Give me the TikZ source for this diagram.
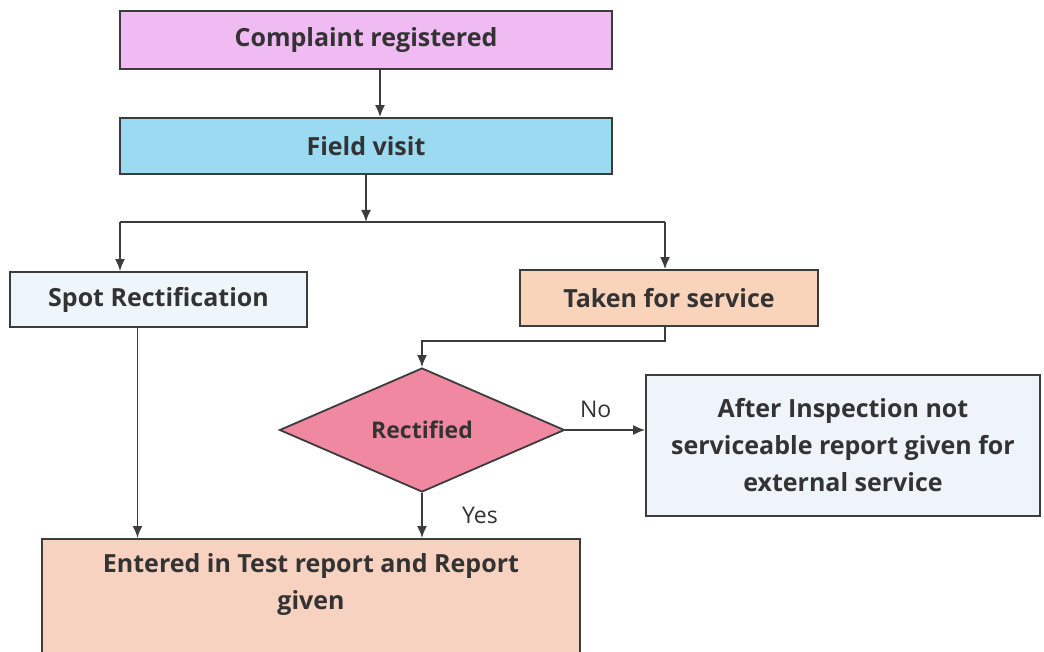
\documentclass[tikz,border=0pt]{standalone}
\usepackage{fontspec}
\setmainfont{Open Sans}
\usetikzlibrary{arrows.meta,positioning,shapes.geometric}

\definecolor{complaintpink}{RGB}{240,186,242}
\definecolor{fieldblue}{RGB}{156,218,242}
\definecolor{spotblue}{RGB}{238,246,252}
\definecolor{takenpeach}{RGB}{250,212,186}
\definecolor{rectpink}{RGB}{240,136,162}
\definecolor{afterblue}{RGB}{238,244,250}
\definecolor{enteredpeach}{RGB}{248,210,192}
\definecolor{edgegray}{RGB}{60,60,60}

\tikzset{
  stagebox/.style={draw=edgegray,line width=1.8pt,inner sep=0pt,align=center,
    font=\fontsize{25}{37}\selectfont\bfseries,text=black!80},
  flow/.style={-{Latex[length=12pt,width=10pt]},edgegray,line width=1.8pt},
  tag/.style={font=\fontsize{23}{26}\selectfont,text=black!80}
}

\begin{document}
\begin{tikzpicture}[x=1pt,y=-1pt]
  \clip (0,0) rectangle (1044,652);

  \node[stagebox,fill=complaintpink,minimum width=492,minimum height=58]
    (complaint) at (366,40) {Complaint registered};
  \node[stagebox,fill=fieldblue,minimum width=492,minimum height=56]
    (field) at (366,146) {Field visit};
  \node[stagebox,fill=spotblue,minimum width=297,minimum height=55]
    (spot) at (158.5,299.5) {Spot Rectification};
  \node[stagebox,fill=takenpeach,minimum width=298,minimum height=56]
    (taken) at (669,298) {Taken for service};
  \node[diamond,draw=edgegray,line width=1.8pt,fill=rectpink,inner sep=0pt,
    minimum width=285,minimum height=124,
    font=\fontsize{23}{26}\selectfont\bfseries,text=black!80]
    (rect) at (422,430) {Rectified};
  \node[stagebox,fill=afterblue,minimum width=394,minimum height=141]
    (after) at (843,445.5) {After Inspection not\\serviceable report given for\\external service};
  \node[stagebox,fill=enteredpeach,minimum width=538,minimum height=140,anchor=north]
    (entered) at (311,538) {};
  \node[stagebox,draw=none,below=15pt of entered.north]
    (enteredtext) {Entered in Test report and Report\\given};

  % split below the field visit
  \coordinate (split) at (366,222);
  \coordinate (splitL) at (120,222);
  \coordinate (splitR) at (665,222);

  \draw[flow] ([xshift=14pt]complaint.south) -- ([xshift=14pt]field.north);
  \draw[flow] (field.south) -- (split);
  \draw[edgegray,line width=1.8pt] (splitL) -- (splitR);
  \draw[flow] (splitL) -- (splitL |- spot.north);
  \draw[flow] (splitR) -- (splitR |- taken.north);
  \draw[flow] ([xshift=-4pt]taken.south) -- ++(0,14) -| (rect.north);
  \draw[flow] (rect.east) -- node[tag,pos=0.38,above=8pt] {No} (rect.east -| after.west);
  \draw[flow] (rect.south) -- node[tag,right=36pt] {Yes} (rect.south |- entered.north);
  \draw[flow] ([xshift=-21pt]spot.south) -- ([xshift=-21pt]spot.south |- entered.north);
\end{tikzpicture}
\end{document}
